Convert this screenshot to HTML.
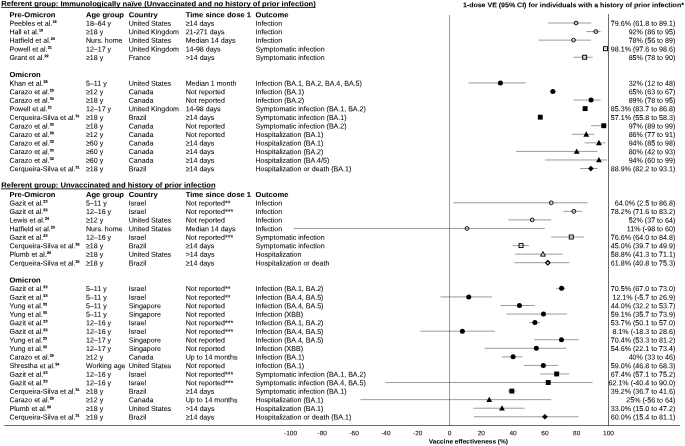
<!DOCTYPE html>
<html><head><meta charset="utf-8"><title>Forest plot</title>
<style>
html,body{margin:0;padding:0;background:#fff;}
body{width:685px;height:446px;position:relative;overflow:hidden;font-family:"Liberation Sans",sans-serif;color:#000;}
#tx{position:absolute;left:0;top:0;width:685px;height:446px;will-change:transform;}
.t{position:absolute;left:0;top:0;transform-origin:0 0;white-space:nowrap;line-height:9px;height:9px;font-size:7.07px;color:#000;-webkit-text-stroke:0.06px #000;}
.b{font-weight:bold;font-size:7.6px;color:#000;}
.v{font-size:7.12px;text-align:right;-webkit-text-stroke:0.04px #000;}
.k{font-size:6.5px;text-align:center;}
.s{font-size:3.7px;font-weight:bold;display:inline-block;line-height:4px;height:4px;vertical-align:baseline;transform:translate(0.15px,-2.75px);-webkit-text-stroke:0.1px #000;}
svg{position:absolute;left:0;top:0;}
.ci{stroke:#000;stroke-width:0.4;}
</style></head><body>
<svg width="685" height="446" viewBox="0 0 685 446">
<line x1="1.1" y1="7.4" x2="315.6" y2="7.4" stroke="#000" stroke-width="0.85"/>
<line x1="1.1" y1="188.85" x2="215.3" y2="188.85" stroke="#000" stroke-width="0.85"/>
<line x1="4.3" y1="425.5" x2="679.8" y2="425.5" stroke="#000" stroke-width="0.58"/>
<line x1="449.5" y1="14.9" x2="449.5" y2="425.5" stroke="#000" stroke-width="0.4"/>
<line x1="608.5" y1="14.0" x2="608.5" y2="425.5" stroke="#000" stroke-width="0.58"/>
<line x1="547.76" y1="23.01" x2="591.17" y2="23.01" class="ci"/>
<circle cx="576.06" cy="23.01" r="1.9" fill="none" stroke="#000" stroke-width="0.95"/>
<line x1="586.24" y1="31.57" x2="600.55" y2="31.57" class="ci"/>
<circle cx="595.78" cy="31.57" r="1.9" fill="none" stroke="#000" stroke-width="0.95"/>
<line x1="538.54" y1="40.13" x2="591.01" y2="40.13" class="ci"/>
<circle cx="573.52" cy="40.13" r="1.9" fill="none" stroke="#000" stroke-width="0.95"/>
<line x1="604.68" y1="48.69" x2="606.27" y2="48.69" class="ci"/>
<rect x="603.48" y="46.69" width="4" height="4" fill="none" stroke="#000" stroke-width="0.95"/>
<line x1="573.52" y1="57.25" x2="592.60" y2="57.25" class="ci"/>
<rect x="582.65" y="55.25" width="4" height="4" fill="none" stroke="#000" stroke-width="0.95"/>
<line x1="468.58" y1="82.93" x2="525.82" y2="82.93" class="ci"/>
<circle cx="500.38" cy="82.93" r="2.5" fill="#000"/>
<line x1="549.67" y1="91.49" x2="556.03" y2="91.49" class="ci"/>
<circle cx="552.85" cy="91.49" r="2.5" fill="#000"/>
<line x1="573.52" y1="100.05" x2="600.55" y2="100.05" class="ci"/>
<circle cx="591.01" cy="100.05" r="2.5" fill="#000"/>
<line x1="582.58" y1="108.61" x2="587.51" y2="108.61" class="ci"/>
<rect x="582.68" y="106.16" width="4.9" height="4.9" fill="#000"/>
<line x1="538.22" y1="117.17" x2="542.20" y2="117.17" class="ci"/>
<rect x="537.84" y="114.72" width="4.9" height="4.9" fill="#000"/>
<line x1="591.01" y1="125.73" x2="606.91" y2="125.73" class="ci"/>
<rect x="601.28" y="123.28" width="4.9" height="4.9" fill="#000"/>
<line x1="571.93" y1="134.29" x2="594.19" y2="134.29" class="ci"/>
<path d="M586.24 131.29L589.14 136.64L583.34 136.64Z" fill="#000"/>
<line x1="584.65" y1="142.85" x2="605.32" y2="142.85" class="ci"/>
<path d="M598.96 139.85L601.86 145.20L596.06 145.20Z" fill="#000"/>
<line x1="516.28" y1="151.41" x2="597.37" y2="151.41" class="ci"/>
<path d="M576.70 148.41L579.60 153.76L573.80 153.76Z" fill="#000"/>
<line x1="544.90" y1="159.97" x2="606.91" y2="159.97" class="ci"/>
<path d="M598.96 156.97L601.86 162.32L596.06 162.32Z" fill="#000"/>
<line x1="580.20" y1="168.53" x2="597.53" y2="168.53" class="ci"/>
<path d="M590.85 165.68L593.70 168.53L590.85 171.38L588.00 168.53Z" fill="#000"/>
<line x1="453.48" y1="202.77" x2="587.51" y2="202.77" class="ci"/>
<circle cx="551.26" cy="202.77" r="1.9" fill="none" stroke="#000" stroke-width="0.95"/>
<line x1="563.34" y1="211.33" x2="581.79" y2="211.33" class="ci"/>
<circle cx="573.84" cy="211.33" r="1.9" fill="none" stroke="#000" stroke-width="0.95"/>
<line x1="508.33" y1="219.89" x2="551.26" y2="219.89" class="ci"/>
<circle cx="532.18" cy="219.89" r="1.9" fill="none" stroke="#000" stroke-width="0.95"/>
<line x1="293.68" y1="228.45" x2="544.90" y2="228.45" class="ci"/>
<circle cx="466.99" cy="228.45" r="1.9" fill="none" stroke="#000" stroke-width="0.95"/>
<line x1="551.26" y1="237.01" x2="584.33" y2="237.01" class="ci"/>
<rect x="569.29" y="235.01" width="4" height="4" fill="none" stroke="#000" stroke-width="0.95"/>
<line x1="512.62" y1="245.57" x2="528.84" y2="245.57" class="ci"/>
<rect x="519.05" y="243.57" width="4" height="4" fill="none" stroke="#000" stroke-width="0.95"/>
<line x1="515.17" y1="254.13" x2="562.55" y2="254.13" class="ci"/>
<path d="M542.99 251.58L545.44 256.13L540.54 256.13Z" fill="none" stroke="#000" stroke-width="0.95"/>
<line x1="514.37" y1="262.69" x2="569.23" y2="262.69" class="ci"/>
<path d="M547.76 260.39L550.06 262.69L547.76 264.99L545.46 262.69Z" fill="none" stroke="#000" stroke-width="1.05"/>
<line x1="556.03" y1="288.37" x2="565.57" y2="288.37" class="ci"/>
<circle cx="561.60" cy="288.37" r="2.5" fill="#000"/>
<line x1="440.44" y1="296.93" x2="492.27" y2="296.93" class="ci"/>
<circle cx="468.74" cy="296.93" r="2.5" fill="#000"/>
<line x1="500.70" y1="305.49" x2="534.88" y2="305.49" class="ci"/>
<circle cx="519.46" cy="305.49" r="2.5" fill="#000"/>
<line x1="506.26" y1="314.05" x2="567.00" y2="314.05" class="ci"/>
<circle cx="543.47" cy="314.05" r="2.5" fill="#000"/>
<line x1="529.16" y1="322.61" x2="540.13" y2="322.61" class="ci"/>
<circle cx="534.88" cy="322.61" r="2.5" fill="#000"/>
<line x1="420.40" y1="331.17" x2="494.97" y2="331.17" class="ci"/>
<circle cx="462.38" cy="331.17" r="2.5" fill="#000"/>
<line x1="534.25" y1="339.73" x2="578.61" y2="339.73" class="ci"/>
<circle cx="561.44" cy="339.73" r="2.5" fill="#000"/>
<line x1="484.64" y1="348.29" x2="566.21" y2="348.29" class="ci"/>
<circle cx="536.31" cy="348.29" r="2.5" fill="#000"/>
<line x1="501.97" y1="356.85" x2="522.64" y2="356.85" class="ci"/>
<circle cx="513.10" cy="356.85" r="2.5" fill="#000"/>
<line x1="523.91" y1="365.41" x2="558.10" y2="365.41" class="ci"/>
<circle cx="543.31" cy="365.41" r="2.5" fill="#000"/>
<line x1="540.29" y1="373.97" x2="569.07" y2="373.97" class="ci"/>
<rect x="554.22" y="371.52" width="4.9" height="4.9" fill="#000"/>
<line x1="385.26" y1="382.53" x2="592.60" y2="382.53" class="ci"/>
<rect x="545.79" y="380.08" width="4.9" height="4.9" fill="#000"/>
<line x1="507.85" y1="391.09" x2="515.64" y2="391.09" class="ci"/>
<rect x="509.38" y="388.64" width="4.9" height="4.9" fill="#000"/>
<line x1="360.46" y1="399.65" x2="551.26" y2="399.65" class="ci"/>
<path d="M489.25 396.65L492.15 402.00L486.35 402.00Z" fill="#000"/>
<line x1="473.35" y1="408.21" x2="524.55" y2="408.21" class="ci"/>
<path d="M501.97 405.21L504.87 410.56L499.07 410.56Z" fill="#000"/>
<line x1="473.99" y1="416.77" x2="578.45" y2="416.77" class="ci"/>
<path d="M544.90 413.92L547.75 416.77L544.90 419.62L542.05 416.77Z" fill="#000"/>
</svg>
<div id="tx">
<div class="t b h" style="transform:translate(1.25px,-0.58px) rotate(0.03deg) scale(1,0.955);font-size:7.61px;">Referent group: Immunologically naïve (Unvaccinated and no history of prior infection)</div>
<div class="t b" style="transform:translate(9.45px,10.46px) rotate(0.03deg) scale(1,0.955);">Pre-Omicron</div>
<div class="t b" style="transform:translate(86.00px,10.46px) rotate(0.03deg) scale(1,0.955);">Age group</div>
<div class="t b" style="transform:translate(128.70px,10.46px) rotate(0.03deg) scale(1,0.955);">Country</div>
<div class="t b" style="transform:translate(185.70px,10.46px) rotate(0.03deg) scale(1,0.955);">Time since dose 1</div>
<div class="t b" style="transform:translate(255.50px,10.46px) rotate(0.03deg) scale(1,0.955);">Outcome</div>
<div class="t n" style="transform:translate(9.45px,18.71px) rotate(0.03deg);">Peebles et al.<span class="s">18</span></div>
<div class="t n" style="transform:translate(86.00px,18.71px) rotate(0.03deg);">18–64 y</div>
<div class="t n" style="transform:translate(128.70px,18.71px) rotate(0.03deg);">United States</div>
<div class="t n" style="transform:translate(185.70px,18.71px) rotate(0.03deg);">≥14 days</div>
<div class="t n" style="transform:translate(255.50px,18.71px) rotate(0.03deg);">Infection</div>
<div class="t v" style="width:90px;transform:translate(585.30px,19.71px) rotate(0.03deg);">79.6% (61.8 to 89.1)</div>
<div class="t n" style="transform:translate(9.45px,27.27px) rotate(0.03deg);">Hall et al.<span class="s">19</span></div>
<div class="t n" style="transform:translate(86.00px,27.27px) rotate(0.03deg);">≥18 y</div>
<div class="t n" style="transform:translate(128.70px,27.27px) rotate(0.03deg);">United Kingdom</div>
<div class="t n" style="transform:translate(185.70px,27.27px) rotate(0.03deg);">21-271 days</div>
<div class="t n" style="transform:translate(255.50px,27.27px) rotate(0.03deg);">Infection</div>
<div class="t v" style="width:90px;transform:translate(585.30px,28.27px) rotate(0.03deg);">92% (86 to 95)</div>
<div class="t n" style="transform:translate(9.45px,35.83px) rotate(0.03deg);">Hatfield et al.<span class="s">20</span></div>
<div class="t n" style="transform:translate(86.00px,35.83px) rotate(0.03deg);">Nurs. home</div>
<div class="t n" style="transform:translate(128.70px,35.83px) rotate(0.03deg);">United States</div>
<div class="t n" style="transform:translate(185.70px,35.83px) rotate(0.03deg);">Median 14 days</div>
<div class="t n" style="transform:translate(255.50px,35.83px) rotate(0.03deg);">Infection</div>
<div class="t v" style="width:90px;transform:translate(585.30px,36.83px) rotate(0.03deg);">78% (56 to 89)</div>
<div class="t n" style="transform:translate(9.45px,44.39px) rotate(0.03deg);">Powell et al.<span class="s">21</span></div>
<div class="t n" style="transform:translate(86.00px,44.39px) rotate(0.03deg);">12–17 y</div>
<div class="t n" style="transform:translate(128.70px,44.39px) rotate(0.03deg);">United Kingdom</div>
<div class="t n" style="transform:translate(185.70px,44.39px) rotate(0.03deg);">14-98 days</div>
<div class="t n" style="transform:translate(255.50px,44.39px) rotate(0.03deg);">Symptomatic infection</div>
<div class="t v" style="width:90px;transform:translate(585.30px,45.39px) rotate(0.03deg);">98.1% (97.6 to 98.6)</div>
<div class="t n" style="transform:translate(9.45px,52.95px) rotate(0.03deg);">Grant et al.<span class="s">22</span></div>
<div class="t n" style="transform:translate(86.00px,52.95px) rotate(0.03deg);">≥18 y</div>
<div class="t n" style="transform:translate(128.70px,52.95px) rotate(0.03deg);">France</div>
<div class="t n" style="transform:translate(185.70px,52.95px) rotate(0.03deg);">&gt;14 days</div>
<div class="t n" style="transform:translate(255.50px,52.95px) rotate(0.03deg);">Symptomatic infection</div>
<div class="t v" style="width:90px;transform:translate(585.30px,53.95px) rotate(0.03deg);">85% (78 to 90)</div>
<div class="t b" style="transform:translate(9.45px,70.38px) rotate(0.03deg) scale(1,0.955);">Omicron</div>
<div class="t n" style="transform:translate(9.45px,78.63px) rotate(0.03deg);">Khan et al.<span class="s">28</span></div>
<div class="t n" style="transform:translate(86.00px,78.63px) rotate(0.03deg);">5–11 y</div>
<div class="t n" style="transform:translate(128.70px,78.63px) rotate(0.03deg);">United States</div>
<div class="t n" style="transform:translate(185.70px,78.63px) rotate(0.03deg);">Median 1 month</div>
<div class="t n" style="transform:translate(255.50px,78.63px) rotate(0.03deg);">Infection (BA.1, BA.2, BA.4, BA.5)</div>
<div class="t v" style="width:90px;transform:translate(585.30px,79.63px) rotate(0.03deg);">32% (12 to 48)</div>
<div class="t n" style="transform:translate(9.45px,87.19px) rotate(0.03deg);">Carazo et al.<span class="s">29</span></div>
<div class="t n" style="transform:translate(86.00px,87.19px) rotate(0.03deg);">≥12 y</div>
<div class="t n" style="transform:translate(128.70px,87.19px) rotate(0.03deg);">Canada</div>
<div class="t n" style="transform:translate(185.70px,87.19px) rotate(0.03deg);">Not reported</div>
<div class="t n" style="transform:translate(255.50px,87.19px) rotate(0.03deg);">Infection (BA.1)</div>
<div class="t v" style="width:90px;transform:translate(585.30px,88.19px) rotate(0.03deg);">65% (63 to 67)</div>
<div class="t n" style="transform:translate(9.45px,95.75px) rotate(0.03deg);">Carazo et al.<span class="s">30</span></div>
<div class="t n" style="transform:translate(86.00px,95.75px) rotate(0.03deg);">≥18 y</div>
<div class="t n" style="transform:translate(128.70px,95.75px) rotate(0.03deg);">Canada</div>
<div class="t n" style="transform:translate(185.70px,95.75px) rotate(0.03deg);">Not reported</div>
<div class="t n" style="transform:translate(255.50px,95.75px) rotate(0.03deg);">Infection (BA.2)</div>
<div class="t v" style="width:90px;transform:translate(585.30px,96.75px) rotate(0.03deg);">89% (78 to 95)</div>
<div class="t n" style="transform:translate(9.45px,104.31px) rotate(0.03deg);">Powell et al.<span class="s">21</span></div>
<div class="t n" style="transform:translate(86.00px,104.31px) rotate(0.03deg);">12–17 y</div>
<div class="t n" style="transform:translate(128.70px,104.31px) rotate(0.03deg);">United Kingdom</div>
<div class="t n" style="transform:translate(185.70px,104.31px) rotate(0.03deg);">14-98 days</div>
<div class="t n" style="transform:translate(255.50px,104.31px) rotate(0.03deg);">Symptomatic infection (BA.1, BA.2)</div>
<div class="t v" style="width:90px;transform:translate(585.30px,105.31px) rotate(0.03deg);">85.3% (83.7 to 86.8)</div>
<div class="t n" style="transform:translate(9.45px,112.87px) rotate(0.03deg);">Cerqueira-Silva et al.<span class="s">31</span></div>
<div class="t n" style="transform:translate(86.00px,112.87px) rotate(0.03deg);">≥18 y</div>
<div class="t n" style="transform:translate(128.70px,112.87px) rotate(0.03deg);">Brazil</div>
<div class="t n" style="transform:translate(185.70px,112.87px) rotate(0.03deg);">≥14 days</div>
<div class="t n" style="transform:translate(255.50px,112.87px) rotate(0.03deg);">Symptomatic infection (BA.1)</div>
<div class="t v" style="width:90px;transform:translate(585.30px,113.87px) rotate(0.03deg);">57.1% (55.8 to 58.3)</div>
<div class="t n" style="transform:translate(9.45px,121.43px) rotate(0.03deg);">Carazo et al.<span class="s">30</span></div>
<div class="t n" style="transform:translate(86.00px,121.43px) rotate(0.03deg);">≥18 y</div>
<div class="t n" style="transform:translate(128.70px,121.43px) rotate(0.03deg);">Canada</div>
<div class="t n" style="transform:translate(185.70px,121.43px) rotate(0.03deg);">Not reported</div>
<div class="t n" style="transform:translate(255.50px,121.43px) rotate(0.03deg);">Symptomatic infection (BA.2)</div>
<div class="t v" style="width:90px;transform:translate(585.30px,122.43px) rotate(0.03deg);">97% (89 to 99)</div>
<div class="t n" style="transform:translate(9.45px,129.99px) rotate(0.03deg);">Carazo et al.<span class="s">29</span></div>
<div class="t n" style="transform:translate(86.00px,129.99px) rotate(0.03deg);">≥12 y</div>
<div class="t n" style="transform:translate(128.70px,129.99px) rotate(0.03deg);">Canada</div>
<div class="t n" style="transform:translate(185.70px,129.99px) rotate(0.03deg);">Not reported</div>
<div class="t n" style="transform:translate(255.50px,129.99px) rotate(0.03deg);">Hospitalization (BA.1)</div>
<div class="t v" style="width:90px;transform:translate(585.30px,130.99px) rotate(0.03deg);">86% (77 to 91)</div>
<div class="t n" style="transform:translate(9.45px,138.55px) rotate(0.03deg);">Carazo et al.<span class="s">32</span></div>
<div class="t n" style="transform:translate(86.00px,138.55px) rotate(0.03deg);">≥60 y</div>
<div class="t n" style="transform:translate(128.70px,138.55px) rotate(0.03deg);">Canada</div>
<div class="t n" style="transform:translate(185.70px,138.55px) rotate(0.03deg);">≥14 days</div>
<div class="t n" style="transform:translate(255.50px,138.55px) rotate(0.03deg);">Hospitalization (BA.1)</div>
<div class="t v" style="width:90px;transform:translate(585.30px,139.55px) rotate(0.03deg);">94% (85 to 98)</div>
<div class="t n" style="transform:translate(9.45px,147.11px) rotate(0.03deg);">Carazo et al.<span class="s">30</span></div>
<div class="t n" style="transform:translate(86.00px,147.11px) rotate(0.03deg);">≥60 y</div>
<div class="t n" style="transform:translate(128.70px,147.11px) rotate(0.03deg);">Canada</div>
<div class="t n" style="transform:translate(185.70px,147.11px) rotate(0.03deg);">≥14 days</div>
<div class="t n" style="transform:translate(255.50px,147.11px) rotate(0.03deg);">Hospitalization (BA.2)</div>
<div class="t v" style="width:90px;transform:translate(585.30px,148.11px) rotate(0.03deg);">80% (42 to 93)</div>
<div class="t n" style="transform:translate(9.45px,155.67px) rotate(0.03deg);">Carazo et al.<span class="s">32</span></div>
<div class="t n" style="transform:translate(86.00px,155.67px) rotate(0.03deg);">≥60 y</div>
<div class="t n" style="transform:translate(128.70px,155.67px) rotate(0.03deg);">Canada</div>
<div class="t n" style="transform:translate(185.70px,155.67px) rotate(0.03deg);">≥14 days</div>
<div class="t n" style="transform:translate(255.50px,155.67px) rotate(0.03deg);">Hospitalization (BA.4/5)</div>
<div class="t v" style="width:90px;transform:translate(585.30px,156.67px) rotate(0.03deg);">94% (60 to 99)</div>
<div class="t n" style="transform:translate(9.45px,164.23px) rotate(0.03deg);">Cerqueira-Silva et al.<span class="s">31</span></div>
<div class="t n" style="transform:translate(86.00px,164.23px) rotate(0.03deg);">≥18 y</div>
<div class="t n" style="transform:translate(128.70px,164.23px) rotate(0.03deg);">Brazil</div>
<div class="t n" style="transform:translate(185.70px,164.23px) rotate(0.03deg);">≥14 days</div>
<div class="t n" style="transform:translate(255.50px,164.23px) rotate(0.03deg);">Hospitalization or death (BA.1)</div>
<div class="t v" style="width:90px;transform:translate(585.30px,165.23px) rotate(0.03deg);">88.9% (82.2 to 93.1)</div>
<div class="t b h" style="transform:translate(1.25px,180.81px) rotate(0.03deg) scale(1,0.955);font-size:7.61px;">Referent group: Unvaccinated and history of prior infection</div>
<div class="t b" style="transform:translate(9.45px,190.23px) rotate(0.03deg) scale(1,0.955);">Pre-Omicron</div>
<div class="t b" style="transform:translate(86.00px,190.23px) rotate(0.03deg) scale(1,0.955);">Age group</div>
<div class="t b" style="transform:translate(128.70px,190.23px) rotate(0.03deg) scale(1,0.955);">Country</div>
<div class="t b" style="transform:translate(185.70px,190.23px) rotate(0.03deg) scale(1,0.955);">Time since dose 1</div>
<div class="t b" style="transform:translate(255.50px,190.23px) rotate(0.03deg) scale(1,0.955);">Outcome</div>
<div class="t n" style="transform:translate(9.45px,198.47px) rotate(0.03deg);">Gazit et al.<span class="s">23</span></div>
<div class="t n" style="transform:translate(86.00px,198.47px) rotate(0.03deg);">5–11 y</div>
<div class="t n" style="transform:translate(128.70px,198.47px) rotate(0.03deg);">Israel</div>
<div class="t n" style="transform:translate(185.70px,198.47px) rotate(0.03deg);">Not reported**</div>
<div class="t n" style="transform:translate(255.50px,198.47px) rotate(0.03deg);">Infection</div>
<div class="t v" style="width:90px;transform:translate(585.30px,199.47px) rotate(0.03deg);">64.0% (2.5 to 86.8)</div>
<div class="t n" style="transform:translate(9.45px,207.03px) rotate(0.03deg);">Gazit et al.<span class="s">23</span></div>
<div class="t n" style="transform:translate(86.00px,207.03px) rotate(0.03deg);">12–16 y</div>
<div class="t n" style="transform:translate(128.70px,207.03px) rotate(0.03deg);">Israel</div>
<div class="t n" style="transform:translate(185.70px,207.03px) rotate(0.03deg);">Not reported***</div>
<div class="t n" style="transform:translate(255.50px,207.03px) rotate(0.03deg);">Infection</div>
<div class="t v" style="width:90px;transform:translate(585.30px,208.03px) rotate(0.03deg);">78.2% (71.6 to 83.2)</div>
<div class="t n" style="transform:translate(9.45px,215.59px) rotate(0.03deg);">Lewis et al.<span class="s">24</span></div>
<div class="t n" style="transform:translate(86.00px,215.59px) rotate(0.03deg);">≥12 y</div>
<div class="t n" style="transform:translate(128.70px,215.59px) rotate(0.03deg);">United States</div>
<div class="t n" style="transform:translate(185.70px,215.59px) rotate(0.03deg);">Not reported</div>
<div class="t n" style="transform:translate(255.50px,215.59px) rotate(0.03deg);">Infection</div>
<div class="t v" style="width:90px;transform:translate(585.30px,216.59px) rotate(0.03deg);">52% (37 to 64)</div>
<div class="t n" style="transform:translate(9.45px,224.15px) rotate(0.03deg);">Hatfield et al.<span class="s">20</span></div>
<div class="t n" style="transform:translate(86.00px,224.15px) rotate(0.03deg);">Nurs. home</div>
<div class="t n" style="transform:translate(128.70px,224.15px) rotate(0.03deg);">United States</div>
<div class="t n" style="transform:translate(185.70px,224.15px) rotate(0.03deg);">Median 14 days</div>
<div class="t n" style="transform:translate(255.50px,224.15px) rotate(0.03deg);">Infection</div>
<div class="t v" style="width:90px;transform:translate(585.30px,225.15px) rotate(0.03deg);">11% (-98 to 60)</div>
<div class="t n" style="transform:translate(9.45px,232.71px) rotate(0.03deg);">Gazit et al.<span class="s">23</span></div>
<div class="t n" style="transform:translate(86.00px,232.71px) rotate(0.03deg);">12–16 y</div>
<div class="t n" style="transform:translate(128.70px,232.71px) rotate(0.03deg);">Israel</div>
<div class="t n" style="transform:translate(185.70px,232.71px) rotate(0.03deg);">Not reported***</div>
<div class="t n" style="transform:translate(255.50px,232.71px) rotate(0.03deg);">Symptomatic infection</div>
<div class="t v" style="width:90px;transform:translate(585.30px,233.71px) rotate(0.03deg);">76.6% (64.0 to 84.8)</div>
<div class="t n" style="transform:translate(9.45px,241.27px) rotate(0.03deg);">Cerqueira-Silva et al.<span class="s">25</span></div>
<div class="t n" style="transform:translate(86.00px,241.27px) rotate(0.03deg);">≥18 y</div>
<div class="t n" style="transform:translate(128.70px,241.27px) rotate(0.03deg);">Brazil</div>
<div class="t n" style="transform:translate(185.70px,241.27px) rotate(0.03deg);">≥14 days</div>
<div class="t n" style="transform:translate(255.50px,241.27px) rotate(0.03deg);">Symptomatic infection</div>
<div class="t v" style="width:90px;transform:translate(585.30px,242.27px) rotate(0.03deg);">45.0% (39.7 to 49.9)</div>
<div class="t n" style="transform:translate(9.45px,249.83px) rotate(0.03deg);">Plumb et al.<span class="s">26</span></div>
<div class="t n" style="transform:translate(86.00px,249.83px) rotate(0.03deg);">≥18 y</div>
<div class="t n" style="transform:translate(128.70px,249.83px) rotate(0.03deg);">United States</div>
<div class="t n" style="transform:translate(185.70px,249.83px) rotate(0.03deg);">&gt;14 days</div>
<div class="t n" style="transform:translate(255.50px,249.83px) rotate(0.03deg);">Hospitalization</div>
<div class="t v" style="width:90px;transform:translate(585.30px,250.83px) rotate(0.03deg);">58.8% (41.3 to 71.1)</div>
<div class="t n" style="transform:translate(9.45px,258.39px) rotate(0.03deg);">Cerqueira-Silva et al.<span class="s">25</span></div>
<div class="t n" style="transform:translate(86.00px,258.39px) rotate(0.03deg);">≥18 y</div>
<div class="t n" style="transform:translate(128.70px,258.39px) rotate(0.03deg);">Brazil</div>
<div class="t n" style="transform:translate(185.70px,258.39px) rotate(0.03deg);">≥14 days</div>
<div class="t n" style="transform:translate(255.50px,258.39px) rotate(0.03deg);">Hospitalization or death</div>
<div class="t v" style="width:90px;transform:translate(585.30px,259.39px) rotate(0.03deg);">61.8% (40.8 to 75.3)</div>
<div class="t b" style="transform:translate(9.45px,275.82px) rotate(0.03deg) scale(1,0.955);">Omicron</div>
<div class="t n" style="transform:translate(9.45px,284.07px) rotate(0.03deg);">Gazit et al.<span class="s">23</span></div>
<div class="t n" style="transform:translate(86.00px,284.07px) rotate(0.03deg);">5–11 y</div>
<div class="t n" style="transform:translate(128.70px,284.07px) rotate(0.03deg);">Israel</div>
<div class="t n" style="transform:translate(185.70px,284.07px) rotate(0.03deg);">Not reported**</div>
<div class="t n" style="transform:translate(255.50px,284.07px) rotate(0.03deg);">Infection (BA.1, BA.2)</div>
<div class="t v" style="width:90px;transform:translate(585.30px,285.07px) rotate(0.03deg);">70.5% (67.0 to 73.0)</div>
<div class="t n" style="transform:translate(9.45px,292.63px) rotate(0.03deg);">Gazit et al.<span class="s">23</span></div>
<div class="t n" style="transform:translate(86.00px,292.63px) rotate(0.03deg);">5–11 y</div>
<div class="t n" style="transform:translate(128.70px,292.63px) rotate(0.03deg);">Israel</div>
<div class="t n" style="transform:translate(185.70px,292.63px) rotate(0.03deg);">Not reported**</div>
<div class="t n" style="transform:translate(255.50px,292.63px) rotate(0.03deg);">Infection (BA.4, BA.5)</div>
<div class="t v" style="width:90px;transform:translate(585.30px,293.63px) rotate(0.03deg);">12.1% (-5.7 to 26.9)</div>
<div class="t n" style="transform:translate(9.45px,301.19px) rotate(0.03deg);">Yung et al.<span class="s">33</span></div>
<div class="t n" style="transform:translate(86.00px,301.19px) rotate(0.03deg);">5–11 y</div>
<div class="t n" style="transform:translate(128.70px,301.19px) rotate(0.03deg);">Singapore</div>
<div class="t n" style="transform:translate(185.70px,301.19px) rotate(0.03deg);">Not reported</div>
<div class="t n" style="transform:translate(255.50px,301.19px) rotate(0.03deg);">Infection (BA.4, BA.5)</div>
<div class="t v" style="width:90px;transform:translate(585.30px,302.19px) rotate(0.03deg);">44.0% (32.2 to 53.7)</div>
<div class="t n" style="transform:translate(9.45px,309.75px) rotate(0.03deg);">Yung et al.<span class="s">33</span></div>
<div class="t n" style="transform:translate(86.00px,309.75px) rotate(0.03deg);">5–11 y</div>
<div class="t n" style="transform:translate(128.70px,309.75px) rotate(0.03deg);">Singapore</div>
<div class="t n" style="transform:translate(185.70px,309.75px) rotate(0.03deg);">Not reported</div>
<div class="t n" style="transform:translate(255.50px,309.75px) rotate(0.03deg);">Infection (XBB)</div>
<div class="t v" style="width:90px;transform:translate(585.30px,310.75px) rotate(0.03deg);">59.1% (35.7 to 73.9)</div>
<div class="t n" style="transform:translate(9.45px,318.31px) rotate(0.03deg);">Gazit et al.<span class="s">23</span></div>
<div class="t n" style="transform:translate(86.00px,318.31px) rotate(0.03deg);">12–16 y</div>
<div class="t n" style="transform:translate(128.70px,318.31px) rotate(0.03deg);">Israel</div>
<div class="t n" style="transform:translate(185.70px,318.31px) rotate(0.03deg);">Not reported***</div>
<div class="t n" style="transform:translate(255.50px,318.31px) rotate(0.03deg);">Infection (BA.1, BA.2)</div>
<div class="t v" style="width:90px;transform:translate(585.30px,319.31px) rotate(0.03deg);">53.7% (50.1 to 57.0)</div>
<div class="t n" style="transform:translate(9.45px,326.87px) rotate(0.03deg);">Gazit et al.<span class="s">23</span></div>
<div class="t n" style="transform:translate(86.00px,326.87px) rotate(0.03deg);">12–16 y</div>
<div class="t n" style="transform:translate(128.70px,326.87px) rotate(0.03deg);">Israel</div>
<div class="t n" style="transform:translate(185.70px,326.87px) rotate(0.03deg);">Not reported***</div>
<div class="t n" style="transform:translate(255.50px,326.87px) rotate(0.03deg);">Infection (BA.4, BA.5)</div>
<div class="t v" style="width:90px;transform:translate(585.30px,327.87px) rotate(0.03deg);">8.1% (-18.3 to 28.6)</div>
<div class="t n" style="transform:translate(9.45px,335.43px) rotate(0.03deg);">Yung et al.<span class="s">33</span></div>
<div class="t n" style="transform:translate(86.00px,335.43px) rotate(0.03deg);">12–17 y</div>
<div class="t n" style="transform:translate(128.70px,335.43px) rotate(0.03deg);">Singapore</div>
<div class="t n" style="transform:translate(185.70px,335.43px) rotate(0.03deg);">Not reported</div>
<div class="t n" style="transform:translate(255.50px,335.43px) rotate(0.03deg);">Infection (BA.4, BA.5)</div>
<div class="t v" style="width:90px;transform:translate(585.30px,336.43px) rotate(0.03deg);">70.4% (53.3 to 81.2)</div>
<div class="t n" style="transform:translate(9.45px,343.99px) rotate(0.03deg);">Yung et al.<span class="s">33</span></div>
<div class="t n" style="transform:translate(86.00px,343.99px) rotate(0.03deg);">12–17 y</div>
<div class="t n" style="transform:translate(128.70px,343.99px) rotate(0.03deg);">Singapore</div>
<div class="t n" style="transform:translate(185.70px,343.99px) rotate(0.03deg);">Not reported</div>
<div class="t n" style="transform:translate(255.50px,343.99px) rotate(0.03deg);">Infection (XBB)</div>
<div class="t v" style="width:90px;transform:translate(585.30px,344.99px) rotate(0.03deg);">54.6% (22.1 to 73.4)</div>
<div class="t n" style="transform:translate(9.45px,352.55px) rotate(0.03deg);">Carazo et al.<span class="s">29</span></div>
<div class="t n" style="transform:translate(86.00px,352.55px) rotate(0.03deg);">≥12 y</div>
<div class="t n" style="transform:translate(128.70px,352.55px) rotate(0.03deg);">Canada</div>
<div class="t n" style="transform:translate(185.70px,352.55px) rotate(0.03deg);">Up to 14 months</div>
<div class="t n" style="transform:translate(255.50px,352.55px) rotate(0.03deg);">Infection (BA.1)</div>
<div class="t v" style="width:90px;transform:translate(585.30px,353.55px) rotate(0.03deg);">40% (33 to 46)</div>
<div class="t n" style="transform:translate(9.45px,361.11px) rotate(0.03deg);">Shrestha et al.<span class="s">34</span></div>
<div class="t n" style="transform:translate(86.00px,361.11px) rotate(0.03deg);">Working age</div>
<div class="t n" style="transform:translate(128.70px,361.11px) rotate(0.03deg);">United States</div>
<div class="t n" style="transform:translate(185.70px,361.11px) rotate(0.03deg);">Not reported</div>
<div class="t n" style="transform:translate(255.50px,361.11px) rotate(0.03deg);">Infection (BA.1)</div>
<div class="t v" style="width:90px;transform:translate(585.30px,362.11px) rotate(0.03deg);">59.0% (46.8 to 68.3)</div>
<div class="t n" style="transform:translate(9.45px,369.67px) rotate(0.03deg);">Gazit et al.<span class="s">23</span></div>
<div class="t n" style="transform:translate(86.00px,369.67px) rotate(0.03deg);">12–16 y</div>
<div class="t n" style="transform:translate(128.70px,369.67px) rotate(0.03deg);">Israel</div>
<div class="t n" style="transform:translate(185.70px,369.67px) rotate(0.03deg);">Not reported***</div>
<div class="t n" style="transform:translate(255.50px,369.67px) rotate(0.03deg);">Symptomatic infection (BA.1, BA.2)</div>
<div class="t v" style="width:90px;transform:translate(585.30px,370.67px) rotate(0.03deg);">67.4% (57.1 to 75.2)</div>
<div class="t n" style="transform:translate(9.45px,378.23px) rotate(0.03deg);">Gazit et al.<span class="s">23</span></div>
<div class="t n" style="transform:translate(86.00px,378.23px) rotate(0.03deg);">12–16 y</div>
<div class="t n" style="transform:translate(128.70px,378.23px) rotate(0.03deg);">Israel</div>
<div class="t n" style="transform:translate(185.70px,378.23px) rotate(0.03deg);">Not reported***</div>
<div class="t n" style="transform:translate(255.50px,378.23px) rotate(0.03deg);">Symptomatic infection (BA.4, BA.5)</div>
<div class="t v" style="width:90px;transform:translate(585.30px,379.23px) rotate(0.03deg);">62.1% (-40.4 to 90.0)</div>
<div class="t n" style="transform:translate(9.45px,386.79px) rotate(0.03deg);">Cerqueira-Silva et al.<span class="s">31</span></div>
<div class="t n" style="transform:translate(86.00px,386.79px) rotate(0.03deg);">≥18 y</div>
<div class="t n" style="transform:translate(128.70px,386.79px) rotate(0.03deg);">Brazil</div>
<div class="t n" style="transform:translate(185.70px,386.79px) rotate(0.03deg);">≥14 days</div>
<div class="t n" style="transform:translate(255.50px,386.79px) rotate(0.03deg);">Symptomatic infection (BA.1)</div>
<div class="t v" style="width:90px;transform:translate(585.30px,387.79px) rotate(0.03deg);">39.2% (36.7 to 41.6)</div>
<div class="t n" style="transform:translate(9.45px,395.35px) rotate(0.03deg);">Carazo et al.<span class="s">29</span></div>
<div class="t n" style="transform:translate(86.00px,395.35px) rotate(0.03deg);">≥12 y</div>
<div class="t n" style="transform:translate(128.70px,395.35px) rotate(0.03deg);">Canada</div>
<div class="t n" style="transform:translate(185.70px,395.35px) rotate(0.03deg);">Up to 14 months</div>
<div class="t n" style="transform:translate(255.50px,395.35px) rotate(0.03deg);">Hospitalization (BA.1)</div>
<div class="t v" style="width:90px;transform:translate(585.30px,396.35px) rotate(0.03deg);">25% (-56 to 64)</div>
<div class="t n" style="transform:translate(9.45px,403.91px) rotate(0.03deg);">Plumb et al.<span class="s">26</span></div>
<div class="t n" style="transform:translate(86.00px,403.91px) rotate(0.03deg);">≥18 y</div>
<div class="t n" style="transform:translate(128.70px,403.91px) rotate(0.03deg);">United States</div>
<div class="t n" style="transform:translate(185.70px,403.91px) rotate(0.03deg);">&gt;14 days</div>
<div class="t n" style="transform:translate(255.50px,403.91px) rotate(0.03deg);">Hospitalization (BA.1)</div>
<div class="t v" style="width:90px;transform:translate(585.30px,404.91px) rotate(0.03deg);">33.0% (15.0 to 47.2)</div>
<div class="t n" style="transform:translate(9.45px,412.47px) rotate(0.03deg);">Cerqueira-Silva et al.<span class="s">31</span></div>
<div class="t n" style="transform:translate(86.00px,412.47px) rotate(0.03deg);">≥18 y</div>
<div class="t n" style="transform:translate(128.70px,412.47px) rotate(0.03deg);">Brazil</div>
<div class="t n" style="transform:translate(185.70px,412.47px) rotate(0.03deg);">≥14 days</div>
<div class="t n" style="transform:translate(255.50px,412.47px) rotate(0.03deg);">Hospitalization or death (BA.1)</div>
<div class="t v" style="width:90px;transform:translate(585.30px,413.47px) rotate(0.03deg);">60.0% (15.4 to 81.1)</div>
<div class="t b" style="transform:translate(462.90px,0.57px) rotate(0.03deg) scale(1,0.955);font-size:7.03px;">1-dose VE (95% CI) for individuals with a history of prior infection*</div>
<div class="t k" style="width:40px;transform:translate(270.50px,428.15px) rotate(0.03deg);">-100</div>
<div class="t k" style="width:40px;transform:translate(302.30px,428.15px) rotate(0.03deg);">-80</div>
<div class="t k" style="width:40px;transform:translate(334.10px,428.15px) rotate(0.03deg);">-60</div>
<div class="t k" style="width:40px;transform:translate(365.90px,428.15px) rotate(0.03deg);">-40</div>
<div class="t k" style="width:40px;transform:translate(397.70px,428.15px) rotate(0.03deg);">-20</div>
<div class="t k" style="width:40px;transform:translate(429.50px,428.15px) rotate(0.03deg);">0</div>
<div class="t k" style="width:40px;transform:translate(461.30px,428.15px) rotate(0.03deg);">20</div>
<div class="t k" style="width:40px;transform:translate(493.10px,428.15px) rotate(0.03deg);">40</div>
<div class="t k" style="width:40px;transform:translate(524.90px,428.15px) rotate(0.03deg);">60</div>
<div class="t k" style="width:40px;transform:translate(556.70px,428.15px) rotate(0.03deg);">80</div>
<div class="t k" style="width:40px;transform:translate(588.50px,428.15px) rotate(0.03deg);">100</div>
<div class="t b" style="transform:translate(428.80px,436.81px) rotate(0.03deg) scale(1,0.955);font-size:6.5px;">Vaccine effectiveness (%)</div>
</div>
</body></html>
